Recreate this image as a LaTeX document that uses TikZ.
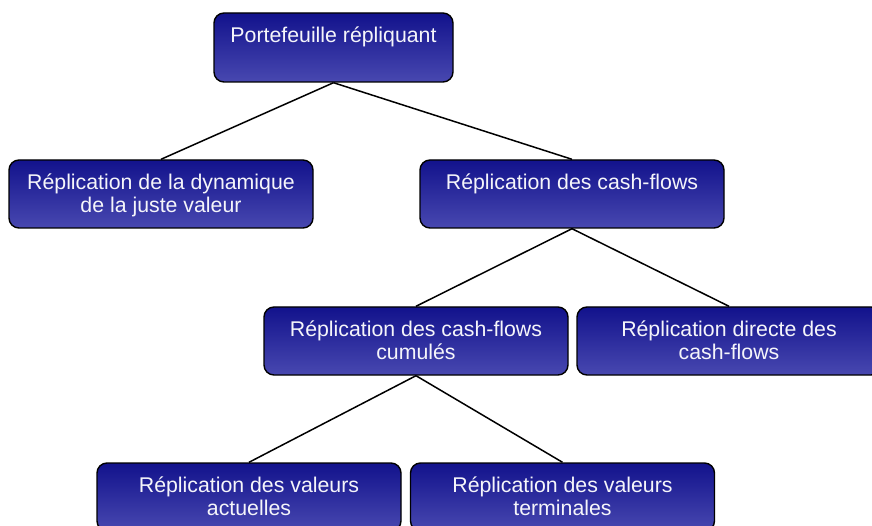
\documentclass[tikz,border=0pt]{standalone}
\usepackage{fontspec}
\setmainfont{Liberation Sans}
\definecolor{boxtop}{RGB}{18,18,140}
\definecolor{boxbot}{RGB}{72,72,176}
\definecolor{txt}{RGB}{245,245,250}
\pgfdeclarelayer{background}
\pgfsetlayers{background,main}
\tikzset{
  box/.style={draw=black, line width=1.4pt, rounded corners=10pt,
    top color=boxtop, bottom color=boxbot, minimum width=304pt,
    minimum height=68pt, inner sep=0pt},
  lbl/.style={anchor=north, inner sep=0pt, align=center, text=txt,
    font=\fontsize{21.3}{23}\selectfont},
  link/.style={draw=black, line width=1.5pt}
}
\newcommand{\fs}{\rule{0pt}{16pt}}
\begin{document}
\begin{tikzpicture}[x=1pt,y=-1pt]
\useasboundingbox (0,0) rectangle (872,526);
\clip (0,0) rectangle (872,526);
\node[box, minimum width=239pt, minimum height=69pt] (top) at (333.5,47.5) {};
\node[box] (l1) at (161,194) {};
\node[box] (r1) at (572,194) {};
\node[box] (l2) at (416,341) {};
\node[box] (r2) at (729,341) {};
\node[box] (l3) at (249,497) {};
\node[box] (r3) at (562.5,497) {};
\begin{pgfonlayer}{background}
\draw[link] (top.south) -- (l1.north);
\draw[link] (top.south) -- (r1.north);
\draw[link] (r1.south) -- (l2.north);
\draw[link] (r1.south) -- (r2.north);
\draw[link] (l2.south) -- (l3.north);
\draw[link] (l2.south) -- (r3.north);
\end{pgfonlayer}
\node[lbl] (ttop) at ([yshift=-14pt]top.north) {\fs Portefeuille répliquant};
\node[lbl] (tl1) at ([yshift=-14pt]l1.north) {\fs Réplication de la dynamique\\\fs de la juste valeur};
\node[lbl] (tr1) at ([yshift=-14pt]r1.north) {\fs Réplication des cash-flows};
\node[lbl] (tl2) at ([yshift=-14pt]l2.north) {\fs Réplication des cash-flows\\\fs cumulés};
\node[lbl] (tr2) at ([yshift=-14pt]r2.north) {\fs Réplication directe des\\\fs cash-flows};
\node[lbl] (tl3) at ([yshift=-14pt]l3.north) {\fs Réplication des valeurs\\\fs actuelles};
\node[lbl] (tr3) at ([yshift=-14pt]r3.north) {\fs Réplication des valeurs\\\fs terminales};
\end{tikzpicture}
\end{document}
